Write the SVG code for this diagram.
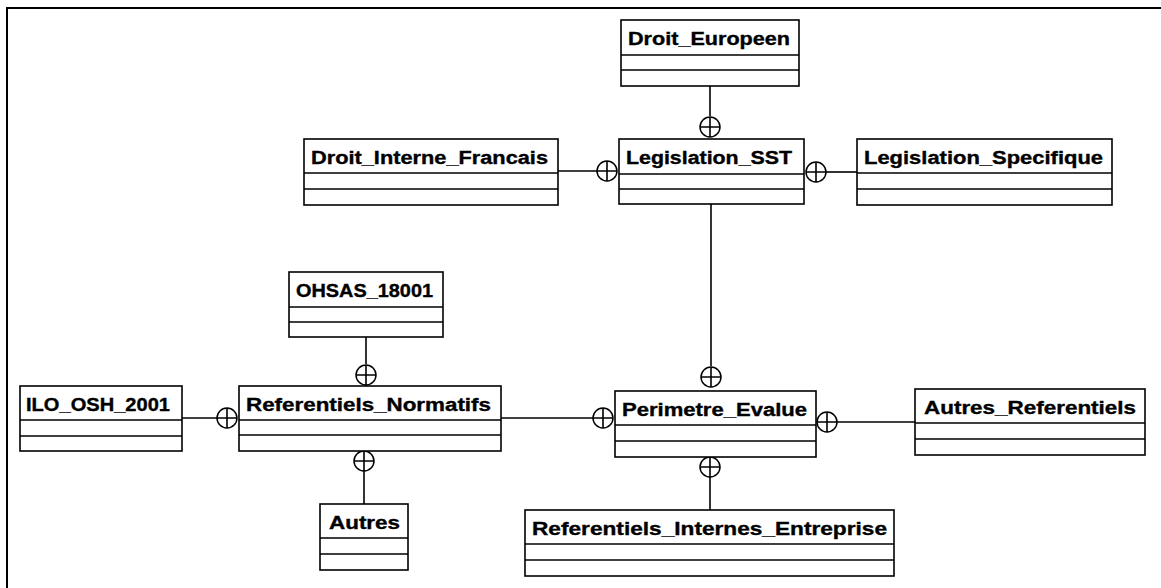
<svg xmlns="http://www.w3.org/2000/svg" width="1161" height="588" viewBox="0 0 1161 588">
  <defs>
    <style>
      .box { fill: #ffffff; stroke: #000000; stroke-width: 1.6; }
      .sep { stroke: #000000; stroke-width: 1.6; }
      .name { font-family: "Liberation Sans", Arial, sans-serif; font-weight: bold; font-size: 18px; fill: #000000; stroke: #000000; stroke-width: 0.35; }
      .link { stroke: #000000; stroke-width: 1.6; fill: none; }
      .ring { fill: #ffffff; stroke: #000000; stroke-width: 1.5; }
    </style>
    <!-- composition end: circle with a cross -->
    <g id="comp">
      <circle class="ring" cx="0" cy="0" r="10"/>
      <path class="link" d="M-10,0 H10 M0,-10 V10"/>
    </g>
  </defs>

  <rect x="0" y="0" width="1161" height="588" fill="#ffffff"/>
  <!-- frame -->
  <path d="M7,588 V8 H1161" fill="none" stroke="#000000" stroke-width="2"/>

  <!-- connectors -->
  <g id="connectors">
    <path class="link" d="M710,86 V116"/>
    <use href="#comp" x="710" y="127"/>

    <path class="link" d="M558,171 H597"/>
    <use href="#comp" x="607" y="171"/>

    <path class="link" d="M826,172 H857"/>
    <use href="#comp" x="816" y="172"/>

    <path class="link" d="M711,204 V366"/>
    <use href="#comp" x="711" y="377"/>

    <path class="link" d="M501,418 H593"/>
    <use href="#comp" x="603" y="418"/>

    <path class="link" d="M837,422 H915"/>
    <use href="#comp" x="827" y="422"/>

    <path class="link" d="M710,477 V510"/>
    <use href="#comp" x="710" y="467"/>

    <path class="link" d="M366,337 V364"/>
    <use href="#comp" x="366" y="375"/>

    <path class="link" d="M182,418 H217"/>
    <use href="#comp" x="227" y="418"/>

    <path class="link" d="M364,471 V504"/>
    <use href="#comp" x="364" y="461"/>
  </g>

  <g id="Droit_Europeen">
    <rect class="box" x="621" y="20" width="178" height="66"/>
    <path class="sep" d="M621,55 H799 M621,70 H799"/>
    <text class="name" x="628" y="45" textLength="162" lengthAdjust="spacingAndGlyphs">Droit_Europeen</text>
  </g>

  <g id="Legislation_SST">
    <rect class="box" x="619" y="139" width="185" height="65"/>
    <path class="sep" d="M619,174 H804 M619,189 H804"/>
    <text class="name" x="626" y="164" textLength="166" lengthAdjust="spacingAndGlyphs">Legislation_SST</text>
  </g>

  <g id="Droit_Interne_Francais">
    <rect class="box" x="304" y="139" width="254" height="66"/>
    <path class="sep" d="M304,173 H558 M304,189 H558"/>
    <text class="name" x="311" y="164" textLength="237" lengthAdjust="spacingAndGlyphs">Droit_Interne_Francais</text>
  </g>

  <g id="Legislation_Specifique">
    <rect class="box" x="857" y="139" width="255" height="66"/>
    <path class="sep" d="M857,173 H1112 M857,189 H1112"/>
    <text class="name" x="864" y="164" textLength="239" lengthAdjust="spacingAndGlyphs">Legislation_Specifique</text>
  </g>

  <g id="OHSAS_18001">
    <rect class="box" x="289" y="272" width="154" height="65"/>
    <path class="sep" d="M289,307 H443 M289,322 H443"/>
    <text class="name" x="296" y="297" textLength="137" lengthAdjust="spacingAndGlyphs">OHSAS_18001</text>
  </g>

  <g id="ILO_OSH_2001">
    <rect class="box" x="20" y="386" width="162" height="65"/>
    <path class="sep" d="M20,420 H182 M20,436 H182"/>
    <text class="name" x="26" y="411" textLength="144" lengthAdjust="spacingAndGlyphs">ILO_OSH_2001</text>
  </g>

  <g id="Referentiels_Normatifs">
    <rect class="box" x="239" y="386" width="262" height="65"/>
    <path class="sep" d="M239,420 H501 M239,435 H501"/>
    <text class="name" x="246" y="411" textLength="245" lengthAdjust="spacingAndGlyphs">Referentiels_Normatifs</text>
  </g>

  <g id="Autres">
    <rect class="box" x="320" y="504" width="88" height="66"/>
    <path class="sep" d="M320,538 H408 M320,554 H408"/>
    <text class="name" x="329" y="529" textLength="71" lengthAdjust="spacingAndGlyphs">Autres</text>
  </g>

  <g id="Perimetre_Evalue">
    <rect class="box" x="615" y="391" width="201" height="66"/>
    <path class="sep" d="M615,425 H816 M615,441 H816"/>
    <text class="name" x="622" y="416" textLength="185" lengthAdjust="spacingAndGlyphs">Perimetre_Evalue</text>
  </g>

  <g id="Autres_Referentiels">
    <rect class="box" x="915" y="389" width="230" height="66"/>
    <path class="sep" d="M915,423 H1145 M915,439 H1145"/>
    <text class="name" x="924" y="414" textLength="212" lengthAdjust="spacingAndGlyphs">Autres_Referentiels</text>
  </g>

  <g id="Referentiels_Internes_Entreprise">
    <rect class="box" x="525" y="510" width="369" height="66"/>
    <path class="sep" d="M525,544 H894 M525,560 H894"/>
    <text class="name" x="532" y="535" textLength="355" lengthAdjust="spacingAndGlyphs">Referentiels_Internes_Entreprise</text>
  </g>
</svg>
